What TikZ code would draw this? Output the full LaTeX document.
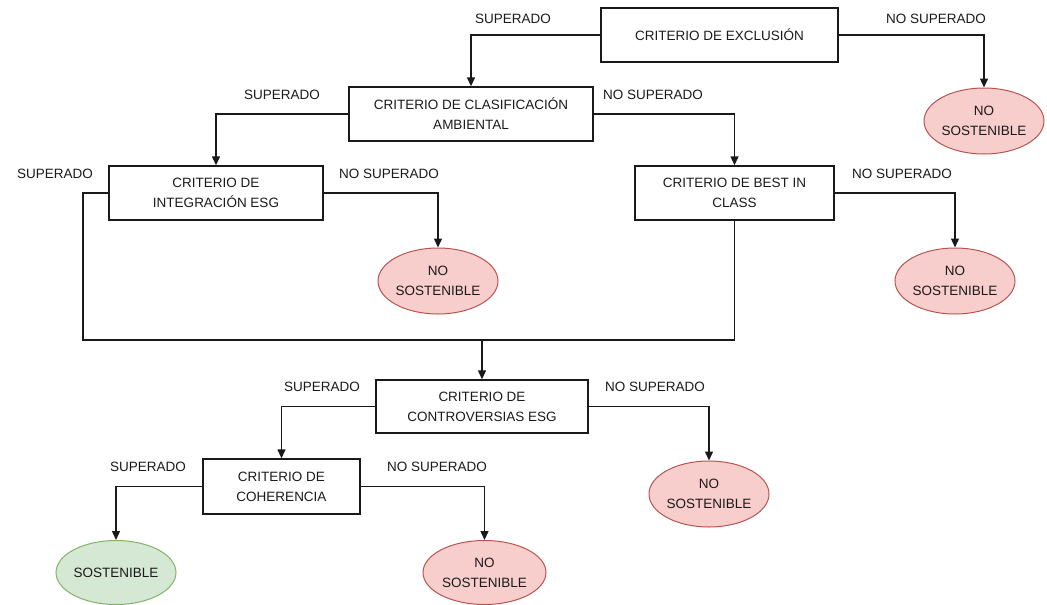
\documentclass[tikz,border=0pt]{standalone}
\usepackage{fontspec}
\setmainfont{Liberation Sans}
\usetikzlibrary{shapes.geometric,arrows.meta}
\definecolor{txt}{HTML}{1A1A1A}
\definecolor{redfill}{HTML}{F8CECC}
\definecolor{redline}{HTML}{B85450}
\definecolor{greenfill}{HTML}{D5E8D4}
\definecolor{greenline}{HTML}{82B366}
\begin{document}
\begin{tikzpicture}[x=1pt,y=-1pt,
  every node/.style={font=\fontsize{13.5}{20}\selectfont, text=txt},
  crit/.style={draw=black!90, line width=1.4pt, rectangle, align=center, inner sep=0pt},
  nosost/.style={draw=redline, fill=redfill, line width=1pt, ellipse, align=center, inner sep=0pt, minimum width=120, minimum height=66},
  sost/.style={draw=greenline, fill=greenfill, line width=1pt, ellipse, align=center, inner sep=0pt, minimum width=120, minimum height=66},
  lbl/.style={inner sep=0pt},
  conn/.style={draw=black!90, line width=1.4pt},
  arr/.style={conn, -{Triangle[length=9pt,width=8pt]}}]
\useasboundingbox (0,0) rectangle (1047,605);
% boxes
\node[crit, minimum width=237, minimum height=54] (b1) at (719.5,35) {CRITERIO DE EXCLUSIÓN};
\node[crit, minimum width=244, minimum height=54] (b2) at (471,114) {CRITERIO DE CLASIFICACIÓN\\AMBIENTAL};
\node[crit, minimum width=214, minimum height=54] (b3) at (216,193) {CRITERIO DE\\INTEGRACIÓN ESG};
\node[crit, minimum width=199, minimum height=54] (b4) at (734.5,193) {CRITERIO DE BEST IN\\CLASS};
\node[crit, minimum width=212, minimum height=53] (b5) at (482,406.5) {CRITERIO DE\\CONTROVERSIAS ESG};
\node[crit, minimum width=157, minimum height=55] (b6) at (281.5,486.5) {CRITERIO DE\\COHERENCIA};
% ellipses
\node[nosost] (e1) at (984,121) {NO\\SOSTENIBLE};
\node[nosost] (e2) at (438,281) {NO\\SOSTENIBLE};
\node[nosost] (e3) at (955,281) {NO\\SOSTENIBLE};
\node[nosost] (e4) at (709,494) {NO\\SOSTENIBLE};
\node[sost, minimum height=64] (s1) at (116,572.5) {SOSTENIBLE};
\node[nosost, minimum width=123, minimum height=64] (e5) at (484.5,572.5) {NO\\SOSTENIBLE};
% labels
\node[lbl] (l1) at (513,19) {SUPERADO};
\node[lbl] (l2) at (936,19) {NO SUPERADO};
\node[lbl] (l3) at (282,95) {SUPERADO};
\node[lbl] (l4) at (653,95) {NO SUPERADO};
\node[lbl] (l5) at (55,174) {SUPERADO};
\node[lbl] (l6) at (389,174) {NO SUPERADO};
\node[lbl] (l7) at (902,174) {NO SUPERADO};
\node[lbl] (l8) at (322,387) {SUPERADO};
\node[lbl] (l9) at (655,387) {NO SUPERADO};
\node[lbl] (l10) at (148,467) {SUPERADO};
\node[lbl] (l11) at (437,467) {NO SUPERADO};
% connectors
\draw[arr] (b1.west) -| (b2.north);
\draw[arr] (b1.east) -| (e1.north);
\draw[arr] (b2.west) -| (b3.north);
\draw[arr] (b2.east) -| (b4.north);
\draw[arr] (b3.east) -| (e2.north);
\draw[arr] (b4.east) -| (e3.north);
\coordinate (lc) at (83,340);
\coordinate (j) at (482,340);
\draw[conn] (b3.west) -| (lc) -- (j);
\draw[conn] (b4.south) |- (j);
\draw[arr] (j) -- (b5.north);
\draw[arr] (b5.west) -| (b6.north);
\draw[arr] (b5.east) -| (e4.north);
\draw[arr] (b6.west) -| (s1.north);
\draw[arr] (b6.east) -| (e5.north);
\end{tikzpicture}
\end{document}
